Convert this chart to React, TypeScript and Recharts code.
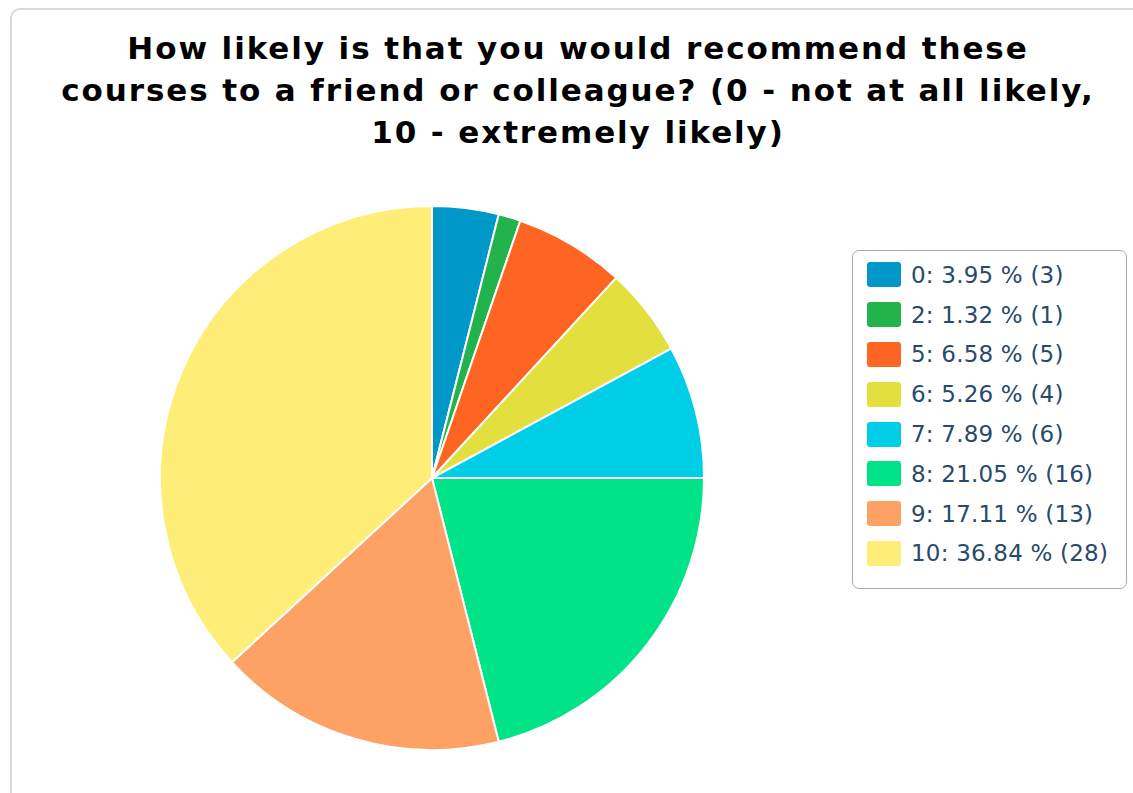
import React from 'react';
import { PieChart, Pie, Cell, Legend } from 'recharts';

const scores = ['0', '2', '5', '6', '7', '8', '9', '10'];
const counts = [3, 1, 5, 4, 6, 16, 13, 28];
const colors = ['#0097c9', '#22b34d', '#fe6522', '#e3df3e', '#00cee6', '#00e387', '#fea165', '#feee78'];

const total = counts.reduce((a, b) => a + b, 0);
const pieData = scores.map((s, i) => ({ name: s, value: counts[i] }));

const LegendBox = () => (
  <div
    style={{
      boxSizing: 'border-box',
      width: 275,
      height: 339,
      border: '1.5px solid #a9a9a9',
      borderRadius: 7,
      background: '#fff',
      paddingTop: 4,
      paddingLeft: 14,
    }}
  >
    {scores.map((s, i) => (
      <div key={s} style={{ display: 'flex', alignItems: 'center', height: 39.8 }}>
        <span
          style={{
            display: 'inline-block',
            width: 34,
            height: 25,
            borderRadius: 3,
            background: colors[i],
            marginRight: 10,
          }}
        />
        <span
          style={{
            fontFamily: '"DejaVu Sans", Verdana, sans-serif',
            fontSize: 23,
            color: '#284a6c',
            whiteSpace: 'nowrap',
            letterSpacing: 0.2,
          }}
        >
          {`${s}: ${((counts[i] / total) * 100).toFixed(2)} % (${counts[i]})`}
        </span>
      </div>
    ))}
  </div>
);

export default function App() {
  return (
    <div style={{ position: 'fixed', left: 0, top: 0, width: 1133, height: 793, overflow: 'hidden', background: '#fff' }}>
      <div
        style={{
          position: 'absolute',
          left: 10,
          top: 8,
          width: 1200,
          height: 900,
          border: '2px solid #dadada',
          borderRadius: 10,
        }}
      />
      <div
        style={{
          position: 'absolute',
          left: 28,
          top: 27,
          width: 1100,
          textAlign: 'center',
          fontFamily: '"DejaVu Sans", Verdana, sans-serif',
          fontWeight: 'bold',
          fontSize: 31,
          letterSpacing: 1.9,
          lineHeight: '42px',
          color: '#000',
          whiteSpace: 'nowrap',
        }}
      >
        How likely is that you would recommend these
        <br />
        courses to a friend or colleague? (0 - not at all likely,
        <br />
        10 - extremely likely)
      </div>
      <div style={{ position: 'absolute', left: 0, top: 0 }}>
        <PieChart width={1133} height={793} margin={{ top: 0, right: 0, bottom: 0, left: 0 }}>
          <Pie
            data={pieData}
            dataKey="value"
            nameKey="name"
            cx={432}
            cy={478}
            outerRadius={272}
            startAngle={90}
            endAngle={-270}
            stroke="#fff"
            strokeWidth={2}
            isAnimationActive={false}
          >
            {pieData.map((d, i) => (
              <Cell key={d.name} fill={colors[i]} />
            ))}
          </Pie>
          <Legend
            layout="vertical"
            align="right"
            verticalAlign="middle"
            content={() => <LegendBox />}
            wrapperStyle={{ left: 852, top: 250, right: 'auto', width: 275, height: 339 }}
          />
        </PieChart>
      </div>
    </div>
  );
}
